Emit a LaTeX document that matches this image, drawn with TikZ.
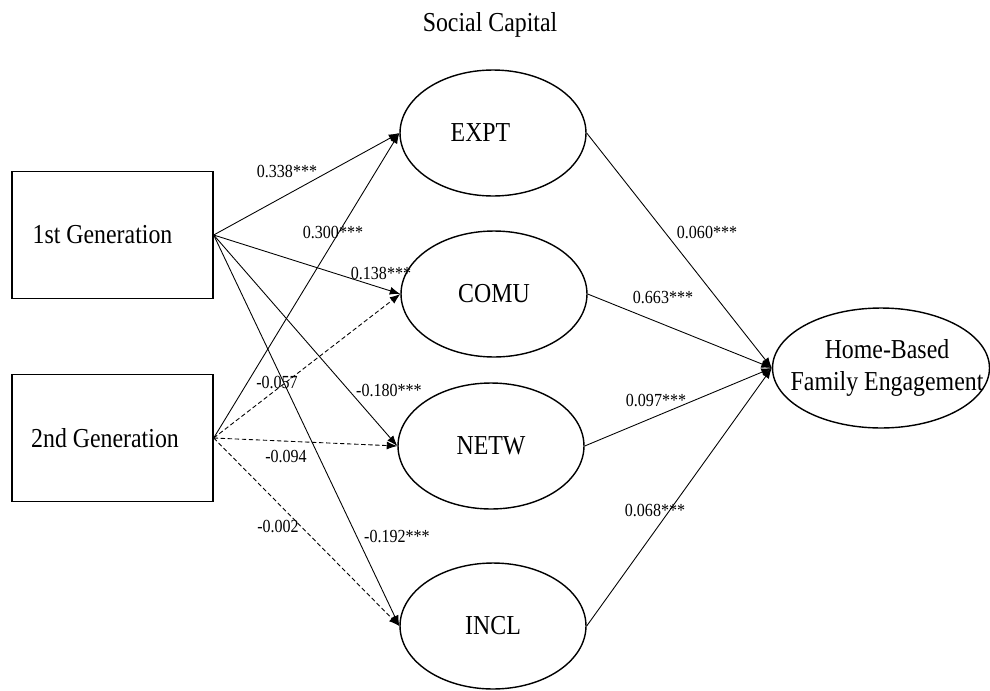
\documentclass[tikz,border=0pt]{standalone}
\usepackage{fontspec}
\setmainfont{Liberation Serif}[FakeStretch=0.87]
\usetikzlibrary{shapes.geometric,arrows.meta}

\begin{document}
\begin{tikzpicture}[x=0.02cm,y=-0.02cm]
\tikzstyle{gen}   = [rectangle, minimum width=4.02cm, minimum height=2.54cm, draw=black, line width=0.8pt, font=\fontsize{15.6}{18.7}\selectfont]
\tikzstyle{lat}   = [ellipse, minimum width=3.72cm, minimum height=2.52cm, inner sep=0pt, draw=black, line width=0.8pt, font=\fontsize{15.6}{18.7}\selectfont]
\tikzstyle{outc}  = [ellipse, minimum width=4.34cm, minimum height=2.4cm, inner sep=0pt, draw=black, line width=0.8pt]
\tikzstyle{big}   = [font=\fontsize{15.6}{18.7}\selectfont, align=center, inner sep=0pt]
\tikzstyle{coef}  = [font=\fontsize{10.5}{12}\selectfont, inner sep=0pt]
\tikzstyle{arrow} = [line width=0.5pt, -{Latex[length=6pt,width=4.5pt]}]
\tikzstyle{ns}    = [arrow, dash pattern=on 2.5pt off 1.5pt]

\useasboundingbox (0,0) rectangle (990,690);

\node (title) [big] at (490,25) {Social Capital};

\node (gen1) [gen] at (112.5,235) {1st Generation\hspace*{0.4cm}};
\node (gen2) [gen] at (112.5,438) {2nd Generation\hspace*{0.3cm}};

\node (expt) [lat] at (493,133) {EXPT\hspace*{0.5cm}};
\node (comu) [lat] at (494,294) {COMU};
\node (netw) [lat] at (491,446) {NETW};
\node (incl) [lat] at (493,626) {INCL};

\node (hbfe)     [outc] at (881,368) {};
\node (hbfetext) [big]  at (887,368) {Home-Based\\Family Engagement};

% paths from generation status
\draw [arrow] (gen1.east) -- (expt.west);
\draw [arrow] (gen1.east) -- (comu.west);
\draw [arrow] (gen1.east) -- (netw.west);
\draw [arrow] (gen1.east) -- (incl.west);
\draw [arrow] (gen2.east) -- (expt.west);
\draw [ns]    (gen2.east) -- (comu.west);
\draw [ns]    (gen2.east) -- (netw.west);
\draw [ns]    (gen2.east) -- (incl.west);

% paths to engagement
\draw [arrow] (expt.east) -- (hbfe.west);
\draw [arrow] (comu.east) -- (hbfe.west);
\draw [arrow] (netw.east) -- (hbfe.west);
\draw [arrow] (incl.east) -- (hbfe.west);

% coefficients
\node (c1e) [coef] at (287,171) {0.338***};
\node (c2e) [coef] at (333,232) {0.300***};
\node (c1c) [coef] at (381,273) {0.138***};
\node (c2c) [coef] at (277,382) {-0.057};
\node (c1n) [coef] at (389,390) {-0.180***};
\node (c2n) [coef] at (286,456) {-0.094};
\node (c2i) [coef] at (278,526) {-0.002};
\node (c1i) [coef] at (397,536) {-0.192***};
\node (ce)  [coef] at (707,232) {0.060***};
\node (cc)  [coef] at (663,297) {0.663***};
\node (cn)  [coef] at (656,400) {0.097***};
\node (ci)  [coef] at (655,510) {0.068***};
\end{tikzpicture}
\end{document}
